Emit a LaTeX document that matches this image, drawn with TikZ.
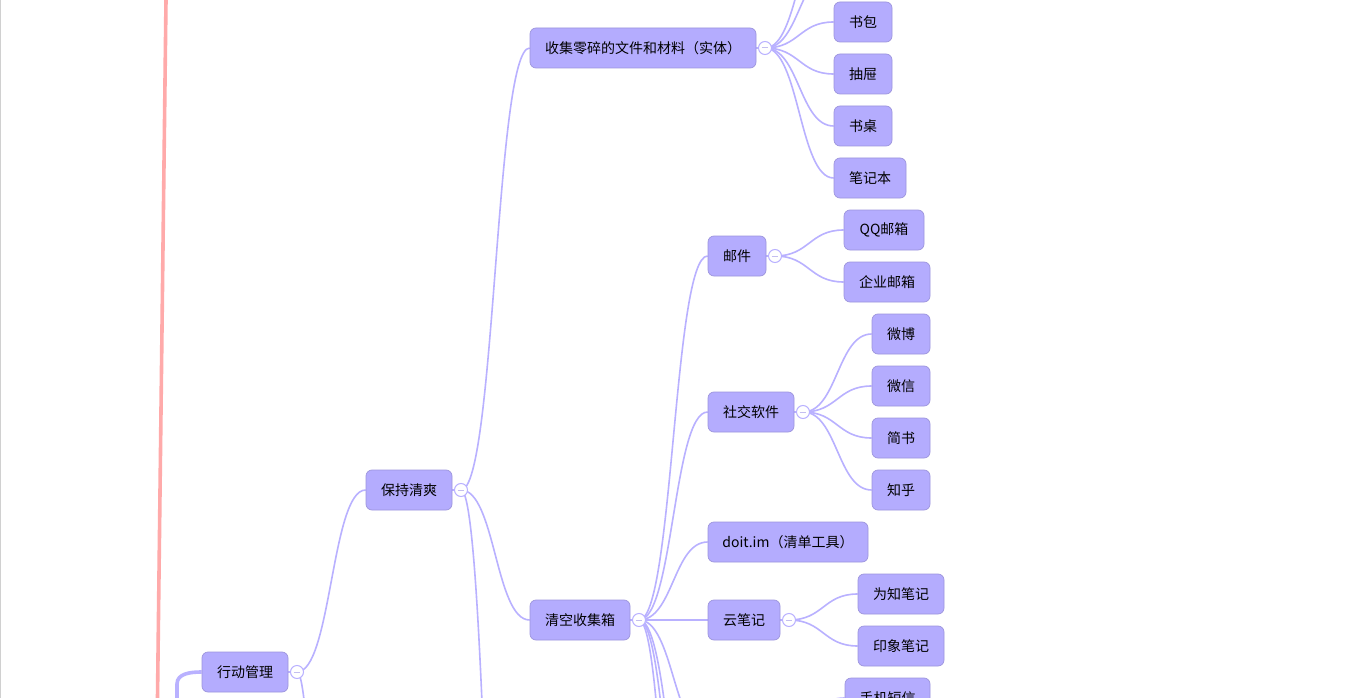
\documentclass[tikz,border=0pt]{standalone}
\usepackage{fontspec}
\setmainfont{Noto Sans CJK SC}
\usetikzlibrary{calc,backgrounds}
\definecolor{nodefill}{HTML}{B4ACFE}
\definecolor{nodeline}{HTML}{9D95DD}
\definecolor{linkcol}{HTML}{B9B1FF}
\definecolor{pinkcol}{HTML}{FFAAAA}
\definecolor{minuscol}{HTML}{C4BEF0}
\definecolor{edgegray}{HTML}{D0D0D0}
\tikzset{
 mm/.style={rectangle, rounded corners=6pt, fill=nodefill, draw=nodeline, line width=0.7pt,
   minimum height=40pt, inner sep=0pt, font=\fontsize{14}{16}\selectfont, text=black},
 link/.style={draw=linkcol, line width=1.6pt},
 rootlink/.style={draw=linkcol, line width=3.6pt},
 fold/.style={circle, fill=white, draw=linkcol, line width=1pt, minimum size=13pt, inner sep=0pt,
   path picture={\draw[minuscol, line width=1pt]
     ([xshift=-3.2pt]path picture bounding box.center) -- ([xshift=3.2pt]path picture bounding box.center);}},
}
\newcommand\mmlink[2]{\draw[link] let \p1=(#1), \p2=(#2), \n1={0.5*(\x1+\x2)} in
  (\p1) .. controls (\n1,\y1) and (\n1,\y2) .. (\p2);}
\begin{document}
\begin{tikzpicture}[x=1pt,y=-1pt]
\useasboundingbox (0,0) rectangle (1366,698);
\clip (0,0) rectangle (1366,698);

% nodes
\node[mm, minimum width=86pt]  (act)      at (245,672) {行动管理};
\node[mm, minimum width=86pt]  (keep)     at (409,490) {保持清爽};
\node[mm, minimum width=226pt] (collect)  at (643,48)  {收集零碎的文件和材料（实体）};
\node[mm, minimum width=100pt] (inbox)    at (580,620) {清空收集箱};
\node[mm, minimum width=58pt]  (bag)      at (863,22)  {书包};
\node[mm, minimum width=58pt]  (drawer)   at (863,74)  {抽屉};
\node[mm, minimum width=58pt]  (desk)     at (863,126) {书桌};
\node[mm, minimum width=72pt]  (notebook) at (870,178) {笔记本};
\node[mm, minimum width=58pt]  (mail)     at (737,256) {邮件};
\node[mm, minimum width=80pt]  (qq)       at (884,230) {QQ邮箱};
\node[mm, minimum width=86pt]  (corp)     at (887,282) {企业邮箱};
\node[mm, minimum width=86pt]  (social)   at (751,412) {社交软件};
\node[mm, minimum width=58pt]  (weibo)    at (901,334) {微博};
\node[mm, minimum width=58pt]  (wechat)   at (901,386) {微信};
\node[mm, minimum width=58pt]  (jianshu)  at (901,438) {简书};
\node[mm, minimum width=58pt]  (zhihu)    at (901,490) {知乎};
\node[mm, minimum width=160pt] (doit)     at (788,542) {doit.im（清单工具）};
\node[mm, minimum width=72pt]  (cloud)    at (744,620) {云笔记};
\node[mm, minimum width=86pt]  (wiz)      at (901,594) {为知笔记};
\node[mm, minimum width=86pt]  (yx)       at (901,646) {印象笔记};
\node[mm, minimum width=85pt]  (sms)      at (887.5,698) {手机短信};

% fold markers
\node[fold] (actc)     at (297,672) {};
\node[fold] (keepc)    at (461,490) {};
\node[fold] (collectc) at (765,48)  {};
\node[fold] (inboxc)   at (639,620) {};
\node[fold] (mailc)    at (775,256) {};
\node[fold] (socialc)  at (803,412) {};
\node[fold] (cloudc)   at (789,620) {};

% off-canvas ends of connectors
\coordinate (upA)    at (834,-30);
\coordinate (upB)    at (834,-82);
\coordinate (downA)  at (708,735);
\coordinate (downAc) at (775,735);
\coordinate (downB)  at (708,942);
\coordinate (downC)  at (708,1085);
\coordinate (downD)  at (708,1400);
\coordinate (keepdown) at (530,1774);
\coordinate (actdown)  at (366,2500);
\coordinate (rootc)  at (177,760);
\coordinate (pinkA)  at (166,0);
\coordinate (pinkB)  at (157.5,698);
\coordinate (edgeA)  at (0.5,0);
\coordinate (edgeB)  at (0.5,698);

\begin{scope}[on background layer]
  \fill[white] (0,0) rectangle (1366,698);
  \draw[edgegray, line width=1pt] (edgeA) -- (edgeB);
  \draw[pinkcol, line width=3.6pt] (pinkA) -- (pinkB);
  \draw[rootlink] (rootc) -- ($(rootc |- act.west)+(0,12)$) to[out=90,in=180] (act.west);
  \foreach \n in {act,keep,collect,inbox,mail,social,cloud}
    \draw[link] (\n.east) -- (\n c.center);
  \mmlink{actc.center}{keep.west}
  \mmlink{actc.center}{actdown}
  \mmlink{keepc.center}{collect.west}
  \mmlink{keepc.center}{inbox.west}
  \mmlink{keepc.center}{keepdown}
  \mmlink{collectc.center}{upA}
  \mmlink{collectc.center}{upB}
  \mmlink{collectc.center}{bag.west}
  \mmlink{collectc.center}{drawer.west}
  \mmlink{collectc.center}{desk.west}
  \mmlink{collectc.center}{notebook.west}
  \mmlink{inboxc.center}{mail.west}
  \mmlink{inboxc.center}{social.west}
  \mmlink{inboxc.center}{doit.west}
  \mmlink{inboxc.center}{cloud.west}
  \mmlink{inboxc.center}{downA}
  \mmlink{inboxc.center}{downB}
  \mmlink{inboxc.center}{downC}
  \mmlink{inboxc.center}{downD}
  \mmlink{mailc.center}{qq.west}
  \mmlink{mailc.center}{corp.west}
  \mmlink{socialc.center}{weibo.west}
  \mmlink{socialc.center}{wechat.west}
  \mmlink{socialc.center}{jianshu.west}
  \mmlink{socialc.center}{zhihu.west}
  \mmlink{cloudc.center}{wiz.west}
  \mmlink{cloudc.center}{yx.west}
  \mmlink{downAc}{sms.west}
\end{scope}
\end{tikzpicture}
\end{document}
